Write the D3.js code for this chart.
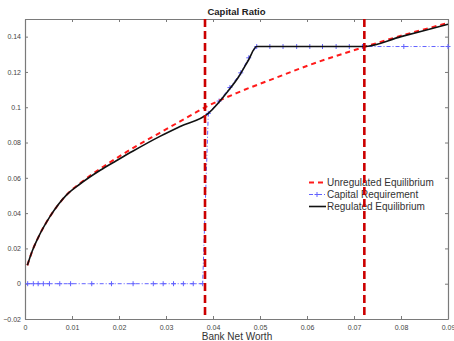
<!DOCTYPE html>
<html><head><meta charset="utf-8">
<script src="https://cdn.jsdelivr.net/npm/d3@7"></script>
<style>body{margin:0;background:#fff}svg{display:block}</style>
</head><body><svg id="c" width="454" height="341"></svg>
<script>
const title = "Capital Ratio";
const xLabel = "Bank Net Worth";
const xTicks = [0,0.01,0.02,0.03,0.04,0.05,0.06,0.07,0.08,0.09];
const yTicks = [-0.02,0,0.02,0.04,0.06,0.08,0.1,0.12,0.14];
const thresholds = [0.0383, 0.0722];

const unregX = [0.0005,0.0015,0.003,0.0053,0.0089,0.012,0.016,0.02,0.024,0.0287,0.033,0.038,0.045,0.0532,0.0606,0.072,0.08,0.09];
const unregY = [0.0104,0.0182,0.0272,0.038,0.0505,0.0575,0.0652,0.072,0.0785,0.0855,0.092,0.0995,0.108,0.1165,0.124,0.134,0.1405,0.1477];

const regX = [0.0005,0.0015,0.003,0.0053,0.0089,0.0117,0.016,0.0195,0.023,0.0287,0.033,0.039,0.0433,0.0454,0.0475,0.0493,0.072,0.08,0.09];
const regY = [0.0104,0.0182,0.0272,0.038,0.0505,0.0565,0.0643,0.0698,0.0752,0.0835,0.0891,0.0965,0.1095,0.117,0.1265,0.1344,0.1344,0.1400,0.1470];

const capX = [0.00057,0.00177,0.0028,0.0039,0.0052,0.0074,0.0097,0.0142,0.0184,0.023,0.0273,0.0294,0.0316,0.0337,0.0358,0.0378,0.039,0.0413,0.0436,0.0459,0.0476,0.0493,0.0521,0.0549,0.0578,0.0606,0.0633,0.0662,0.069,0.0718,0.0806,0.09];
const capY = [0,0,0,0,0,0,0,0,0,0,0,0,0,0,0,0,0.0965,0.1035,0.1112,0.1195,0.128,0.1344,0.1344,0.1344,0.1344,0.1344,0.1344,0.1344,0.1344,0.1344,0.1344,0.1344];

const legendNames = ["Unregulated Equilibrium","Capital Requirement","Regulated Equilibrium"];

const svg = d3.select("#c");
const x = d3.scaleLinear().domain([0,0.09]).range([25,448]);
const y = d3.scaleLinear().domain([-0.02,0.15]).range([319,19]);
const fmt = d => d===0 ? "0" : d3.format("")(+d.toFixed(2));

// axes box
const axCol = "#7a7a7a";
const gB = svg.append("g").attr("transform","translate(0,319)")
  .call(d3.axisBottom(x).tickValues(xTicks).tickSizeInner(-3).tickSizeOuter(0).tickPadding(6).tickFormat(fmt));
const gT = svg.append("g").attr("transform","translate(0,19)")
  .call(d3.axisTop(x).tickValues(xTicks).tickSizeInner(-3).tickSizeOuter(0).tickFormat(""));
const gL = svg.append("g").attr("transform","translate(25,0)")
  .call(d3.axisLeft(y).tickValues(yTicks).tickSizeInner(-3).tickSizeOuter(0).tickPadding(4).tickFormat(fmt));
const gR = svg.append("g").attr("transform","translate(448,0)")
  .call(d3.axisRight(y).tickValues(yTicks).tickSizeInner(-3).tickSizeOuter(0).tickFormat(""));
[gB,gT,gL,gR].forEach(g=>{
  g.select(".domain").attr("stroke",axCol).attr("stroke-width",1.2);
  g.selectAll(".tick line").attr("stroke",axCol);
  g.selectAll("text").attr("fill","#444").style("font-family","Liberation Sans, Arial, sans-serif").style("font-size","7px");
});

// capital requirement (blue dash-dot with + markers)
const capPts = capX.map((v,i)=>[v,capY[i]]);
const line = d3.line().x(d=>x(d[0])).y(d=>y(d[1]));
svg.append("path").attr("d",line(capPts)).attr("fill","none")
  .attr("stroke","#6262ff").attr("stroke-width",1).attr("stroke-dasharray","4,2,1,2");
svg.append("g").selectAll("path").data(capPts).join("path")
  .attr("d",d=>`M${x(d[0])-2.5},${y(d[1])}h5M${x(d[0])},${y(d[1])-2.5}v5`)
  .attr("stroke","#6262ff").attr("stroke-width",1);

// unregulated (red dashed)
const unregPts = unregX.map((v,i)=>[v,unregY[i]]);
const curve = d3.line().x(d=>x(d[0])).y(d=>y(d[1])).curve(d3.curveMonotoneX);
svg.append("path").attr("d",curve(unregPts)).attr("fill","none")
  .attr("stroke","#ff1a1a").attr("stroke-width",2).attr("stroke-dasharray","5,4");

// regulated (black)
const regPts = regX.map((v,i)=>[v,regY[i]]);
svg.append("path").attr("d",curve(regPts)).attr("fill","none")
  .attr("stroke","#111").attr("stroke-width",1.6);

// legend
const lg = svg.append("g").style("font-family","Liberation Sans, Arial, sans-serif").style("font-size","10px");
const lgY = [182.5,194.5,206.5];
lg.append("line").attr("x1",309).attr("x2",325).attr("y1",lgY[0]).attr("y2",lgY[0])
  .attr("stroke","#ff1a1a").attr("stroke-width",2).attr("stroke-dasharray","5,4");
lg.append("line").attr("x1",309).attr("x2",325).attr("y1",lgY[1]).attr("y2",lgY[1])
  .attr("stroke","#6262ff").attr("stroke-width",1).attr("stroke-dasharray","4,2,1,2");
lg.append("path").attr("d",`M${317-2.5},${lgY[1]}h5M317,${lgY[1]-2.5}v5`).attr("stroke","#6262ff");
lg.append("line").attr("x1",309).attr("x2",326).attr("y1",lgY[2]).attr("y2",lgY[2])
  .attr("stroke","#111").attr("stroke-width",1.6);
lg.selectAll("text").data(legendNames).join("text")
  .attr("x",327).attr("y",(d,i)=>lgY[i]+3.5).attr("fill","#333").text(d=>d);

// threshold vertical lines
svg.append("g").selectAll("line").data(thresholds).join("line")
  .attr("x1",d=>x(d)).attr("x2",d=>x(d)).attr("y1",y(0.15)).attr("y2",y(-0.02))
  .attr("stroke","#cc0000").attr("stroke-width",2.6).attr("stroke-dasharray","8,4");

// titles
svg.append("text").attr("x",236.5).attr("y",15).attr("text-anchor","middle")
  .style("font-family","Liberation Sans, Arial, sans-serif").style("font-size","9.5px").style("font-weight","bold")
  .attr("fill","#222").text(title);
svg.append("text").attr("x",237).attr("y",340).attr("text-anchor","middle")
  .style("font-family","Liberation Sans, Arial, sans-serif").style("font-size","10px")
  .attr("fill","#333").text(xLabel);
</script></body></html>
